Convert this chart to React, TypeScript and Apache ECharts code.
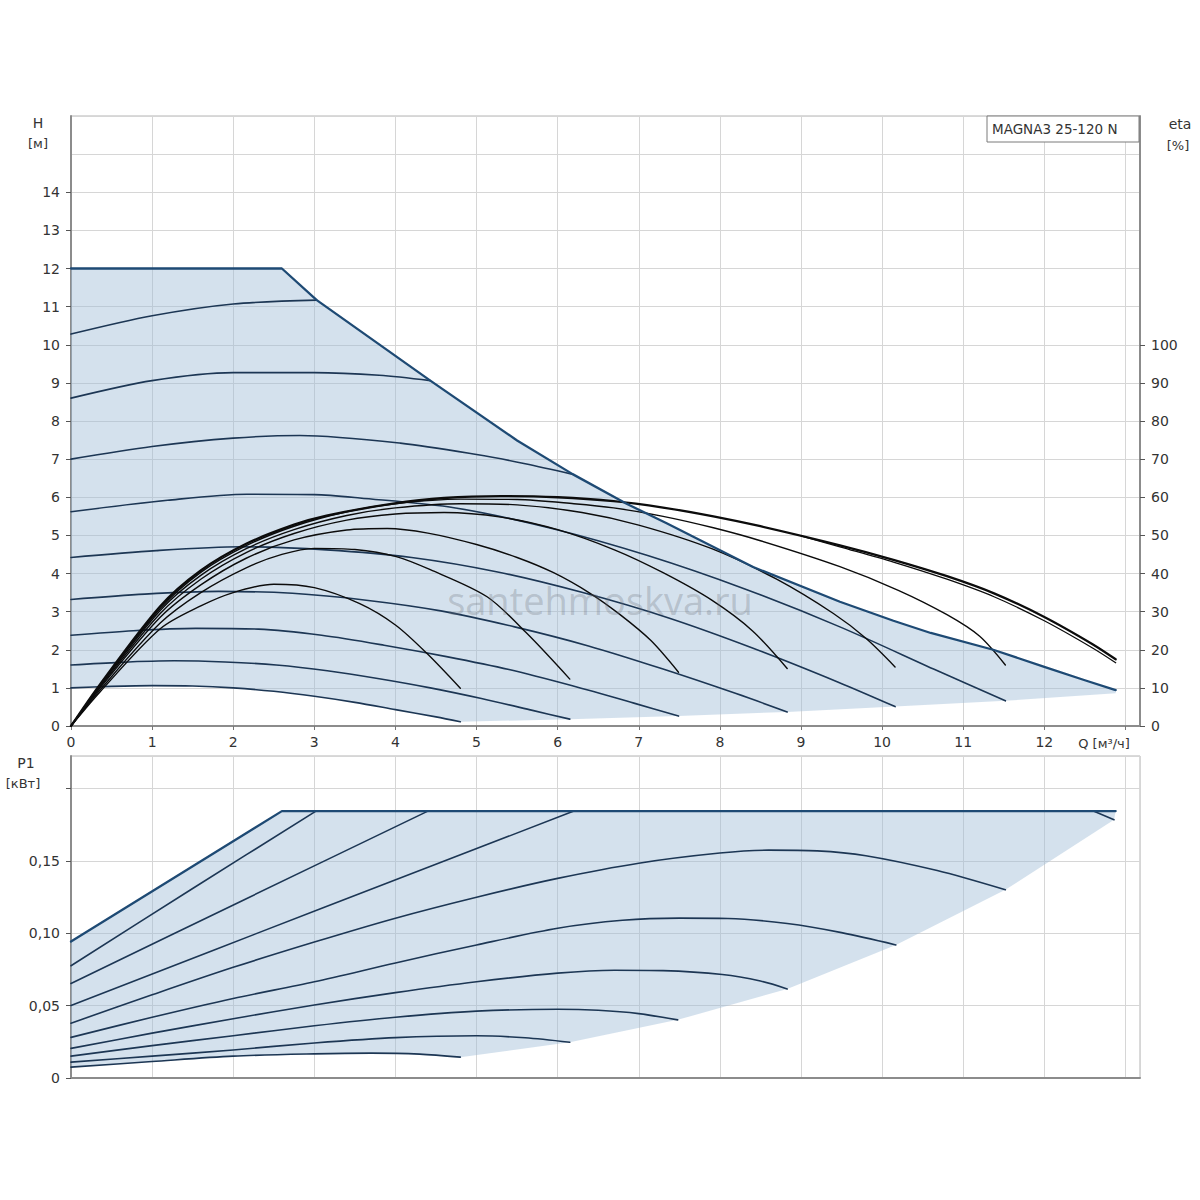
import React, { useEffect, useRef } from "react";
import * as echarts from "echarts";

type Pt = [number, number];

// ---- axis tick / label values ----
const qLabels = [0, 1, 2, 3, 4, 5, 6, 7, 8, 9, 10, 11, 12];
const qTicks = [0, 1, 2, 3, 4, 5, 6, 7, 8, 9, 10, 11, 12, 13];
const hLabels = [0, 1, 2, 3, 4, 5, 6, 7, 8, 9, 10, 11, 12, 13, 14];
const etaLabels = [0, 10, 20, 30, 40, 50, 60, 70, 80, 90, 100];
const pLabels = [0, 0.05, 0.1, 0.15];
const pTicks = [0, 0.05, 0.1, 0.15, 0.2];

// ---- H (head) curves, [Q m3/h, H m] ----
const hMax: Pt[] = [[0, 12], [2.6, 12], [3.03, 11.17], [4.43, 9.06], [5.5, 7.49], [6.19, 6.6], [6.85, 5.83], [7.35, 5.31], [8.41, 4.17], [9.48, 3.26], [10.14, 2.76], [10.6, 2.44], [11.37, 2.0], [12.0, 1.55], [12.5, 1.2], [12.88, 0.94]];
const hSpeed1: Pt[] = [[0, 10.28], [1, 10.76], [2, 11.07], [3.03, 11.17]];
const hSpeed2: Pt[] = [[0, 8.6], [1, 9.06], [2, 9.27], [3, 9.27], [3.8, 9.2], [4.43, 9.06]];
const hSpeed3: Pt[] = [[0, 7.0], [1, 7.33], [2, 7.55], [2.82, 7.62], [4.06, 7.42], [5, 7.12], [5.6, 6.88], [6.19, 6.6]];
const hSpeed4: Pt[] = [[0, 5.62], [1.19, 5.92], [2.17, 6.08], [3.0, 6.07], [3.56, 5.98], [4.74, 5.72], [5.93, 5.18], [7.11, 4.47], [8.3, 3.6], [9.48, 2.6], [10.67, 1.46], [11.52, 0.66]];
const hSpeed5: Pt[] = [[0, 4.42], [1.05, 4.6], [2.1, 4.7], [3.15, 4.62], [4.2, 4.42], [5.26, 4.04], [6.31, 3.5], [7.36, 2.84], [8.41, 2.04], [9.46, 1.15], [10.16, 0.51]];
const hSpeed6: Pt[] = [[0, 3.32], [0.91, 3.46], [1.82, 3.53], [2.73, 3.48], [3.64, 3.3], [4.56, 3.02], [5.47, 2.6], [6.38, 2.1], [7.29, 1.5], [8.2, 0.85], [8.83, 0.37]];
const hSpeed7: Pt[] = [[0, 2.38], [0.77, 2.5], [1.54, 2.56], [2.31, 2.54], [3.09, 2.38], [3.86, 2.12], [4.63, 1.82], [5.4, 1.48], [6.17, 1.06], [6.94, 0.6], [7.49, 0.26]];
const hSpeed8: Pt[] = [[0, 1.6], [0.6, 1.67], [1.27, 1.71], [1.9, 1.68], [2.53, 1.6], [3.16, 1.45], [3.8, 1.24], [4.43, 1.0], [5.06, 0.72], [5.69, 0.41], [6.15, 0.18]];
const hSpeed9: Pt[] = [[0, 1.0], [0.5, 1.04], [1, 1.06], [1.5, 1.05], [2, 1.0], [2.5, 0.91], [3, 0.78], [3.5, 0.62], [4, 0.43], [4.5, 0.24], [4.8, 0.11]];
const hLowerEdge: Pt[] = [[12.88, 0.86], [11.52, 0.66], [10.16, 0.51], [8.83, 0.37], [7.49, 0.26], [6.15, 0.18], [4.8, 0.11]];

// ---- efficiency curves, [Q m3/h, eta %] ----
const eta9: Pt[] = [[0, 0], [0.36, 9], [1.1, 25.5], [1.6, 31.5], [2, 35], [2.5, 37.2], [3, 36.3], [3.56, 32.1], [4, 26.5], [4.39, 19], [4.8, 9.9]];
const eta8: Pt[] = [[0, 0], [0.36, 9.5], [1.1, 27], [1.6, 35], [2.16, 41.5], [2.6, 45], [3.0, 46.6], [3.5, 46.3], [4.0, 44.5], [4.43, 41], [5.13, 33.9], [5.62, 24.3], [6.15, 12.3]];
const eta7: Pt[] = [[0, 0], [0.36, 10], [1.1, 28.5], [1.6, 37], [2.16, 44], [2.75, 48.8], [3.4, 51.4], [3.9, 51.8], [4.4, 50.6], [5.0, 47.6], [5.5, 44.2], [5.95, 40.2], [6.4, 34.8], [6.77, 29.2], [7.15, 22.4], [7.49, 14.1]];
const eta6: Pt[] = [[0, 0], [0.36, 10.3], [1.1, 29.5], [1.6, 38.5], [2.16, 45.5], [2.75, 50.5], [3.4, 54], [4.0, 55.6], [4.6, 56], [5.3, 54.8], [6.0, 51.5], [6.7, 46.2], [7.3, 40.2], [7.9, 33], [8.4, 25], [8.83, 15.1]];
const eta5: Pt[] = [[0, 0], [0.36, 10.6], [1.1, 30.3], [1.6, 39.5], [2.16, 46.5], [2.75, 51.5], [3.4, 55.2], [4.0, 57.2], [4.8, 58.3], [5.5, 58], [6.3, 56], [7.0, 52.7], [7.9, 46.5], [8.7, 38.5], [9.4, 29.5], [9.8, 23], [10.16, 15.5]];
const eta4: Pt[] = [[0, 0], [0.36, 10.8], [1.1, 30.8], [1.6, 40.3], [2.16, 47.3], [2.75, 52.4], [3.4, 56.2], [4.0, 58.3], [4.8, 59.5], [5.5, 59.4], [6.2, 58.3], [6.69, 57.2], [7.3, 55.0], [7.92, 52.0], [8.5, 48.6], [9.48, 41.8], [10.2, 35.6], [10.8, 29.2], [11.2, 23.6], [11.52, 16]];
const eta3: Pt[] = [[0, 0], [0.36, 11], [1.1, 31.4], [1.6, 40.8], [2.16, 47.8], [2.75, 52.8], [3.15, 55.2], [3.97, 58.3], [4.6, 59.8], [5.3, 60.3], [6.0, 60], [6.69, 59], [7.3, 57.3], [7.92, 55.0], [8.5, 52.4], [9.48, 47.4], [10.14, 43.6], [10.8, 39.3], [11.38, 34.8], [12.0, 28.6], [12.6, 21.4], [12.88, 17.5]];
const eta3b: Pt[] = [[9.0, 49.9], [9.48, 47.0], [10.14, 43.0], [10.8, 38.5], [11.38, 33.9], [12.0, 27.6], [12.6, 20.4], [12.88, 16.6]];

// ---- P1 (power) curves, [Q m3/h, P1 kW] ----
const pMax: Pt[] = [[0, 0.0943], [2.6, 0.1845], [12.88, 0.1845]];
const pMaxTail: Pt[] = [[12.62, 0.1842], [12.86, 0.1786]];
const pSpeed1: Pt[] = [[0, 0.0776], [1.5, 0.131], [3.02, 0.1845]];
const pSpeed2: Pt[] = [[0, 0.0653], [2.2, 0.125], [4.4, 0.1845]];
const pSpeed3: Pt[] = [[0, 0.0502], [3.1, 0.1175], [6.2, 0.1845]];
const pSpeed4: Pt[] = [[0, 0.0379], [1, 0.0575], [2, 0.0765], [3, 0.094], [4, 0.1105], [5, 0.125], [6, 0.138], [7, 0.1485], [8, 0.1555], [8.6, 0.1575], [9.2, 0.157], [9.8, 0.1537], [10.68, 0.1434], [11.52, 0.1301]];
const pSpeed5: Pt[] = [[0, 0.0281], [1, 0.042], [2, 0.055], [3, 0.0665], [4, 0.0795], [5, 0.092], [6, 0.1035], [6.8, 0.109], [7.5, 0.1105], [8.1, 0.1103], [8.83, 0.1068], [9.5, 0.1005], [10.17, 0.092]];
const pSpeed6: Pt[] = [[0, 0.0205], [1, 0.031], [2, 0.041], [3, 0.0505], [4, 0.059], [5, 0.0665], [6, 0.0725], [6.7, 0.0745], [7.3, 0.0742], [8.03, 0.0715], [8.5, 0.067], [8.83, 0.0616]];
const pSpeed7: Pt[] = [[0, 0.0151], [1, 0.0224], [2, 0.0292], [3, 0.0361], [4, 0.042], [5, 0.0462], [6, 0.0475], [6.5, 0.0468], [7, 0.0445], [7.48, 0.0402]];
const pSpeed8: Pt[] = [[0, 0.011], [1, 0.0151], [2, 0.0194], [3, 0.0242], [4, 0.0279], [5, 0.0292], [5.6, 0.0278], [6.15, 0.0247]];
const pSpeed9: Pt[] = [[0, 0.0075], [1, 0.0114], [2, 0.0151], [3, 0.0167], [3.7, 0.0172], [4.3, 0.0165], [4.8, 0.0144]];
const pLowerEdge: Pt[] = [[12.86, 0.1786], [11.52, 0.1301], [10.17, 0.092], [8.83, 0.0616], [7.48, 0.0402], [6.15, 0.0247], [4.8, 0.0144]];

const FONT = "DejaVu Sans";
const TXT = "#333";
const SPEED_COLOR = "#1c3654";
const MAX_COLOR = "#1e4a74";
const ETA_COLOR = "#0c0c0c";
const GRID_COLOR = "#d6d6d6";
const AXIS_COLOR = "#8c8c8c";

function lineSeries(data: Pt[], xi: number, yi: number, color: string, width: number, z: number, smooth: number | boolean = 0.3) {
  return {
    type: "line",
    xAxisIndex: xi,
    yAxisIndex: yi,
    data,
    symbol: "none",
    showSymbol: false,
    smooth,
    silent: true,
    z,
    lineStyle: { color, width, cap: "round", join: "round" },
  };
}

function areaSeries(poly: Pt[], xi: number, yi: number) {
  return {
    type: "custom",
    xAxisIndex: xi,
    yAxisIndex: yi,
    data: [[0, 0]],
    silent: true,
    z: 1,
    renderItem: (_params: any, api: any) => ({
      type: "polygon",
      shape: { points: poly.map((p) => api.coord(p)) },
      style: { fill: "rgba(160,188,214,0.45)", stroke: "none" },
    }),
  };
}

const topShade: Pt[] = [...hMax, ...hLowerEdge, ...[...hSpeed9].reverse()];
const bottomShade: Pt[] = [...pMax, ...pLowerEdge, ...[...pSpeed9].reverse()];

const Q_MAX = 13.18;
const H_MAX = 16;
const ETA_MAX = 160;
const P_MAX = 0.2226;

const labelStyle = { color: TXT, fontSize: 14, fontFamily: FONT };

function gridX(gridIndex: number) {
  return {
    type: "value",
    gridIndex,
    min: 0,
    max: Q_MAX,
    interval: 1,
    position: "bottom",
    axisLine: { show: true, onZero: false, lineStyle: { color: AXIS_COLOR, width: 2 } },
    axisTick: { show: false },
    axisLabel: { show: false },
    splitLine: { show: true, lineStyle: { color: GRID_COLOR, width: 1 } },
  };
}

const option: any = {
  animation: false,
  backgroundColor: "#ffffff",
  grid: [
    { left: 71, right: 60, top: 116, height: 610, show: true, borderColor: "#b4b4b4", borderWidth: 1, backgroundColor: "transparent" },
    { left: 71, right: 60, top: 756, height: 322, show: true, borderColor: "#b4b4b4", borderWidth: 1, backgroundColor: "transparent" },
  ],
  xAxis: [
    gridX(0),
    {
      type: "value",
      gridIndex: 0,
      min: 0,
      max: Q_MAX,
      interval: 1,
      position: "bottom",
      axisLine: { show: false, onZero: false },
      axisTick: { show: true, customValues: qTicks, length: 4, lineStyle: { color: "#777" } },
      axisLabel: { show: true, customValues: qLabels, margin: 9, ...labelStyle },
      splitLine: { show: false },
    },
    gridX(1),
  ],
  yAxis: [
    {
      type: "value",
      gridIndex: 0,
      min: 0,
      max: H_MAX,
      interval: 1,
      position: "left",
      axisLine: { show: true, onZero: false, lineStyle: { color: AXIS_COLOR, width: 2 } },
      axisTick: { show: false },
      axisLabel: { show: false },
      splitLine: { show: true, lineStyle: { color: GRID_COLOR, width: 1 } },
    },
    {
      type: "value",
      gridIndex: 0,
      min: 0,
      max: H_MAX,
      interval: 1,
      position: "left",
      axisLine: { show: false, onZero: false },
      axisTick: { show: true, customValues: hLabels, length: 5, lineStyle: { color: "#555" } },
      axisLabel: { show: true, customValues: hLabels, margin: 11, ...labelStyle },
      splitLine: { show: false },
    },
    {
      type: "value",
      gridIndex: 0,
      min: 0,
      max: ETA_MAX,
      interval: 10,
      position: "right",
      axisLine: { show: true, onZero: false, lineStyle: { color: AXIS_COLOR, width: 2 } },
      axisTick: { show: true, customValues: etaLabels, length: 5, lineStyle: { color: "#555" } },
      axisLabel: { show: true, customValues: etaLabels, margin: 11, ...labelStyle },
      splitLine: { show: false },
    },
    {
      type: "value",
      gridIndex: 1,
      min: 0,
      max: P_MAX,
      interval: 0.05,
      position: "left",
      axisLine: { show: true, onZero: false, lineStyle: { color: AXIS_COLOR, width: 2 } },
      axisTick: { show: false },
      axisLabel: { show: false },
      splitLine: { show: true, lineStyle: { color: GRID_COLOR, width: 1 } },
    },
    {
      type: "value",
      gridIndex: 1,
      min: 0,
      max: P_MAX,
      interval: 0.05,
      position: "left",
      axisLine: { show: false, onZero: false },
      axisTick: { show: true, customValues: pTicks, length: 5, lineStyle: { color: "#555" } },
      axisLabel: {
        show: true,
        customValues: pLabels,
        margin: 11,
        ...labelStyle,
        formatter: (v: number) => (v === 0 ? "0" : v.toFixed(2).replace(".", ",")),
      },
      splitLine: { show: false },
    },
  ],
  series: [
    areaSeries(topShade, 0, 0),
    areaSeries(bottomShade, 2, 3),
    // head curves
    ...[hSpeed1, hSpeed2, hSpeed3, hSpeed4, hSpeed5, hSpeed6, hSpeed7, hSpeed8, hSpeed9].map((d) => lineSeries(d, 0, 0, SPEED_COLOR, 1.6, 3)),
    // efficiency curves
    ...[eta9, eta8, eta7, eta6, eta5, eta4].map((d) => lineSeries(d, 0, 2, ETA_COLOR, 1.4, 4)),
    lineSeries(eta3, 0, 2, ETA_COLOR, 2.3, 4),
    lineSeries(eta3b, 0, 2, ETA_COLOR, 1.3, 4),
    lineSeries(hMax, 0, 0, MAX_COLOR, 2.3, 5, false),
    // power curves
    ...[pSpeed1, pSpeed2, pSpeed3, pSpeed4, pSpeed5, pSpeed6, pSpeed7, pSpeed8, pSpeed9].map((d) => lineSeries(d, 2, 3, SPEED_COLOR, 1.6, 3)),
    lineSeries(pMaxTail, 2, 3, SPEED_COLOR, 1.6, 3, false),
    lineSeries(pMax, 2, 3, MAX_COLOR, 2.3, 5, false),
  ],
  graphic: [
    { type: "text", x: 38, y: 123, z: 100, style: { text: "H", fontSize: 14, fontFamily: FONT, fill: TXT, align: "center", verticalAlign: "middle" } },
    { type: "text", x: 38, y: 143, z: 100, style: { text: "[м]", fontSize: 13, fontFamily: FONT, fill: TXT, align: "center", verticalAlign: "middle" } },
    { type: "text", x: 1180, y: 124, z: 100, style: { text: "eta", fontSize: 14, fontFamily: FONT, fill: TXT, align: "center", verticalAlign: "middle" } },
    { type: "text", x: 1178, y: 145, z: 100, style: { text: "[%]", fontSize: 13, fontFamily: FONT, fill: TXT, align: "center", verticalAlign: "middle" } },
    { type: "text", x: 26, y: 763, z: 100, style: { text: "P1", fontSize: 14, fontFamily: FONT, fill: TXT, align: "center", verticalAlign: "middle" } },
    { type: "text", x: 23, y: 783, z: 100, style: { text: "[кВт]", fontSize: 13, fontFamily: FONT, fill: TXT, align: "center", verticalAlign: "middle" } },
    { type: "text", x: 1104, y: 743, z: 100, style: { text: "Q [м³/ч]", fontSize: 13, fontFamily: FONT, fill: TXT, align: "center", verticalAlign: "middle" } },
    { type: "rect", z: 100, shape: { x: 987, y: 116, width: 152, height: 26 }, style: { fill: "#ffffff", stroke: "#7a7a7a", lineWidth: 1 } },
    { type: "text", x: 992, y: 129, z: 101, style: { text: "MAGNA3 25-120 N", fontSize: 13.5, fontFamily: FONT, fill: TXT, align: "left", verticalAlign: "middle" } },
    { type: "text", x: 600, y: 600, z: 90, style: { text: "santehmoskva.ru", fontSize: 38, fontFamily: "Open Sans", fill: "rgba(110,115,125,0.30)", align: "center", verticalAlign: "middle" } },
  ],
};

export default function App() {
  const ref = useRef<HTMLDivElement>(null);
  useEffect(() => {
    if (!ref.current) return;
    const chart = echarts.init(ref.current, null, { renderer: "svg" });
    chart.setOption(option);
    return () => chart.dispose();
  }, []);
  return (
    <div
      ref={ref}
      style={{ position: "absolute", left: 0, top: 0, width: 1200, height: 1200, background: "#ffffff" }}
    />
  );
}
